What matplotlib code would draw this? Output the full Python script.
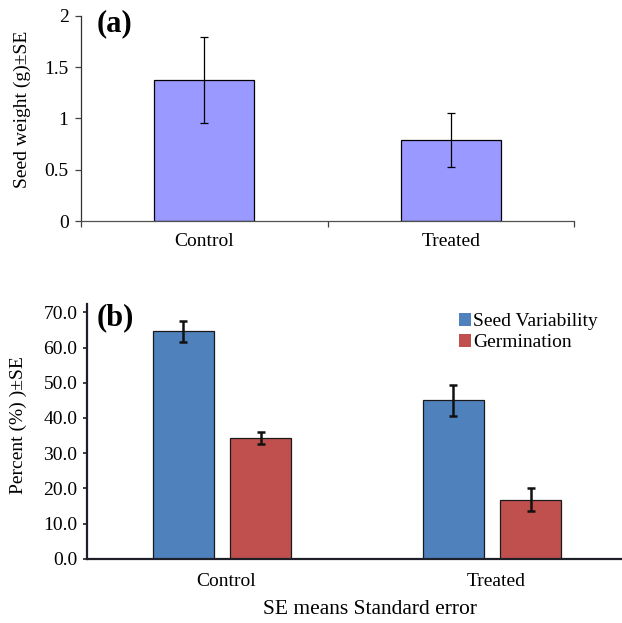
import matplotlib
matplotlib.use("Agg")
import matplotlib.pyplot as plt
import numpy as np
from matplotlib.patches import Patch

plt.rcParams['font.family'] = ['Liberation Serif', 'DejaVu Serif']

# ---- data ----
categories = ["Control", "Treated"]
seed_weight = [1.375, 0.79]
seed_weight_se = [0.42, 0.265]

series_names = ["Seed Variability", "Germination"]
seed_variability = [64.6, 45.0]
seed_variability_se = [3.0, 4.4]
germination = [34.4, 16.8]
germination_se = [1.75, 3.2]

a_yticks = [0, 0.5, 1, 1.5, 2]
a_yticklabels = ["0", "0.5", "1", "1.5", "2"]
b_yticks = [0, 10, 20, 30, 40, 50, 60, 70]

W, H = 622, 623
fig = plt.figure(figsize=(W / 100, H / 100), dpi=100)

def ax_rect(left, top, right, bottom):
    return [left / W, 1 - bottom / H, (right - left) / W, (bottom - top) / H]

FS = 14

# ---------------- panel (a) ----------------
axa = fig.add_axes(ax_rect(81, 15.7, 574, 221))
x = np.arange(len(categories))
axa.bar(x, seed_weight, width=0.406, color="#9999FF", edgecolor="#000000", linewidth=0.9, zorder=2)
axa.errorbar(x, seed_weight, yerr=seed_weight_se, fmt="none", ecolor="black",
             elinewidth=0.9, capsize=3, capthick=0.9, zorder=3)
axa.set_xlim(-0.5, 1.5)
axa.set_ylim(0, 2)
axa.set_yticks(a_yticks)
axa.set_yticklabels(a_yticklabels)
axa.set_xticks(x)
axa.set_xticklabels(categories)
axa.set_xticks([-0.5, 0.5, 1.5], minor=True)
axa.tick_params(axis="x", which="major", length=0, pad=9, labelsize=FS)
axa.tick_params(axis="x", which="minor", length=4, width=0.9, color="#404040", direction="out")
axa.tick_params(axis="y", length=4, width=0.9, pad=5, labelsize=FS, color="#404040")
for s in ["top", "right"]:
    axa.spines[s].set_visible(False)
axa.spines["left"].set_color("#303030")
axa.spines["bottom"].set_color("#505050")
axa.spines["left"].set_linewidth(0.9)
axa.spines["bottom"].set_linewidth(0.9)
axa.set_ylabel("Seed weight (g)±SE", fontsize=FS, va="center")
axa.yaxis.set_label_coords(-0.1197, 0.543)
fig.text(97 / W, 1 - 24 / H, "(a)", fontsize=22, fontweight="bold", ha="left", va="center")

# ---------------- panel (b) ----------------
axb = fig.add_axes(ax_rect(87, 304, 627, 558.7))
off = 0.1426
bw = 0.226
axb.bar(x - off, seed_variability, width=bw, color="#4F81BD", edgecolor="#1a1a1a",
        linewidth=0.9, zorder=2, label=series_names[0])
axb.bar(x + off, germination, width=bw, color="#C0504D", edgecolor="#1a1a1a",
        linewidth=0.9, zorder=2, label=series_names[1])
axb.errorbar(x - off, seed_variability, yerr=seed_variability_se, fmt="none", ecolor="#111111",
             elinewidth=1.8, capsize=3.2, capthick=1.8, zorder=3)
axb.errorbar(x + off, germination, yerr=germination_se, fmt="none", ecolor="#111111",
             elinewidth=1.8, capsize=3.2, capthick=1.8, zorder=3)
axb.set_xlim(-0.5, 1.5)
axb.set_ylim(0, 72.4)
axb.set_yticks(b_yticks)
axb.set_yticklabels([f"{v:.1f}" for v in b_yticks])
axb.set_xticks(x + 0.015)
axb.set_xticklabels(categories)
axb.tick_params(axis="x", length=0, pad=10, labelsize=FS)
axb.tick_params(axis="y", length=3, width=1.2, pad=4, labelsize=FS, color="#202020")
for s in ["top", "right"]:
    axb.spines[s].set_visible(False)
for s in ["left", "bottom"]:
    axb.spines[s].set_color("#1f1f2a")
    axb.spines[s].set_linewidth(1.6)
axb.set_ylabel("Percent (%) )±SE", fontsize=FS, va="center")
axb.yaxis.set_label_coords(-0.1278, 0.525)
fig.text(97 / W, 1 - 318 / H, "(b)", fontsize=22, fontweight="bold", ha="left", va="center")

handles = [Patch(facecolor="#4F81BD", edgecolor="none"), Patch(facecolor="#C0504D", edgecolor="none")]
leg = axb.legend(handles, series_names, loc="upper left",
                 bbox_to_anchor=(459 / W, 1 - 313 / H), bbox_transform=fig.transFigure,
                 frameon=False, fontsize=FS, handlelength=0.62, handleheight=0.62,
                 handletextpad=0.1, labelspacing=0.2, borderaxespad=0, borderpad=0)

fig.text(370 / W, 1 - 610 / H, "SE means Standard error", fontsize=15.5, ha="center", va="center")

fig.savefig("out.png", dpi=100)
